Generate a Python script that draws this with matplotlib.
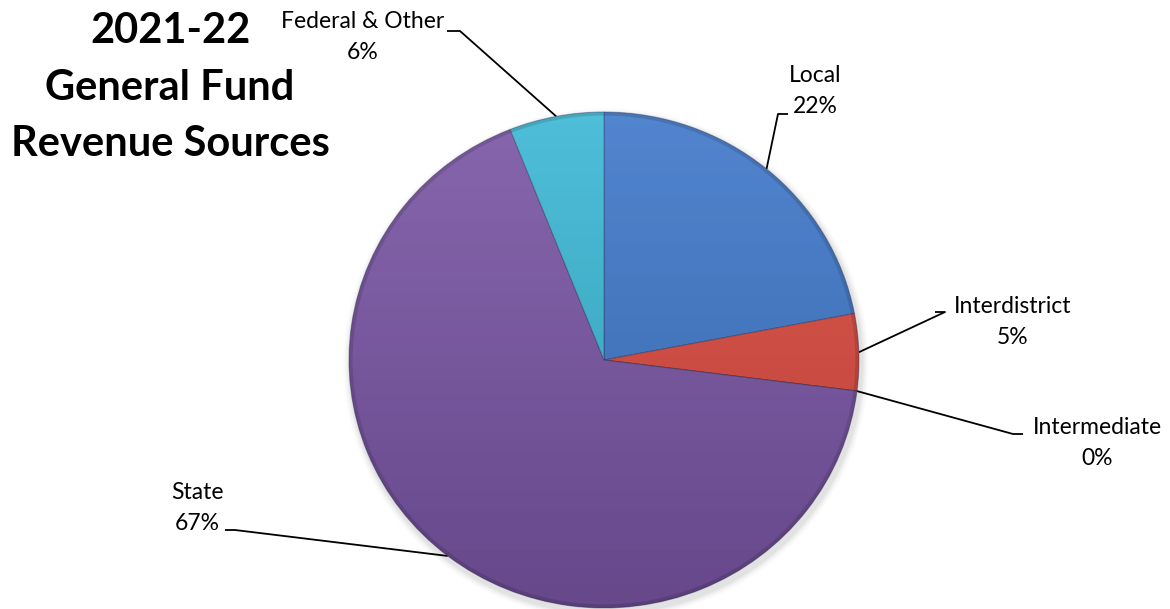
import numpy as np
import matplotlib.pyplot as plt
from matplotlib.patches import Ellipse

# Revenue shares (percent), clockwise from 12 o'clock
sources = ["Local", "Interdistrict", "Intermediate", "State", "Federal & Other"]
shares = [22, 5, 0, 67, 6]
colors = ["#3f78c9", "#da4a3f", "#9bbb59", "#7a56a5", "#3cb7d4"]

W, H = 1170, 609
fig = plt.figure(figsize=(W / 100, H / 100), dpi=100)

# pie placement in pixels (center and radii)
cx, cy, rx, ry = 604, 360, 255, 248

# overlay axes in pixel coordinates for title, labels and leader lines
over = fig.add_axes([0, 0, 1, 1], zorder=3)
over.set_xlim(0, W)
over.set_ylim(H, 0)
over.axis("off")

# soft shadow under the pie
for i, a in enumerate(np.linspace(0.05, 0.012, 7)):
    over.add_patch(Ellipse((cx + 2, cy + 4), 2 * rx + 2 * i + 4, 2 * ry + 2 * i + 4,
                           facecolor="#808080", edgecolor="none", alpha=a, zorder=0))

pie_ax = fig.add_axes([(cx - rx) / W, (H - cy - ry) / H, 2 * rx / W, 2 * ry / H], zorder=4)
wedges, _ = pie_ax.pie(shares, colors=colors, startangle=90, counterclock=False, radius=1,
                       wedgeprops=dict(edgecolor=(0.1, 0.1, 0.25, 0.35), linewidth=0.8))
pie_ax.set_aspect("auto")
pie_ax.axis("off")

# top-to-bottom shading across the whole pie
grad = np.linspace(0, 1, 256)
shade = np.zeros((256, 1, 4))
shade[:, 0, 3] = 0.16 * grad
img = pie_ax.imshow(shade, extent=(-1, 1, -1, 1), origin="upper", aspect="auto", zorder=5)
img.set_clip_path(Ellipse((0, 0), 2, 2, transform=pie_ax.transData))
hl = np.ones((256, 1, 4))
hl[:, 0, 3] = 0.10 * (1 - grad)
img2 = pie_ax.imshow(hl, extent=(-1, 1, -1, 1), origin="upper", aspect="auto", zorder=5)
img2.set_clip_path(Ellipse((0, 0), 2, 2, transform=pie_ax.transData))
pie_ax.set_xlim(-1, 1)
pie_ax.set_ylim(-1, 1)
# bevel rim
pie_ax.add_patch(Ellipse((0, 0), 1.985, 1.985, facecolor="none", edgecolor="#000000",
                         alpha=0.12, linewidth=2.5, zorder=6))

# title
title_font = dict(family="Lato", fontweight="bold", fontsize=30, color="black",
                  ha="center", va="center")
for line, y in zip(["2021-22", "General Fund", "Revenue Sources"], [31, 88, 144]):
    over.text(170, y, line, **title_font)

# label anchors: text center, elbow point, line start (pixels)
label_pos = {
    "Local": ((815, 91), (778, 114), (788, 114)),
    "Interdistrict": ((1013, 322), (945, 312), (935, 312)),
    "Intermediate": ((1097, 443), (1013, 434), (1023, 434)),
    "State": ((197, 508), (235, 530), (225, 530)),
    "Federal & Other": ((363, 37), (460, 31), (447, 31)),
}

cum = np.cumsum([0] + shares)
total = float(sum(shares))
for name, v, c0, c1 in zip(sources, shares, cum[:-1], cum[1:]):
    mid = 90 - 360 * (c0 + c1) / 2 / total
    px = cx + rx * np.cos(np.radians(mid))
    py = cy - ry * np.sin(np.radians(mid))
    (tx, ty), elbow, start = label_pos[name]
    over.plot([start[0], elbow[0], px], [start[1], elbow[1], py], color="black", lw=1.3,
              solid_capstyle="butt", zorder=2)
    over.text(tx, ty, f"{name}\n{v:.0f}%", family="Lato", fontsize=16.5, ha="center",
              va="center", linespacing=1.6, color="black")

fig.savefig("out.png", dpi=100, facecolor="white")
